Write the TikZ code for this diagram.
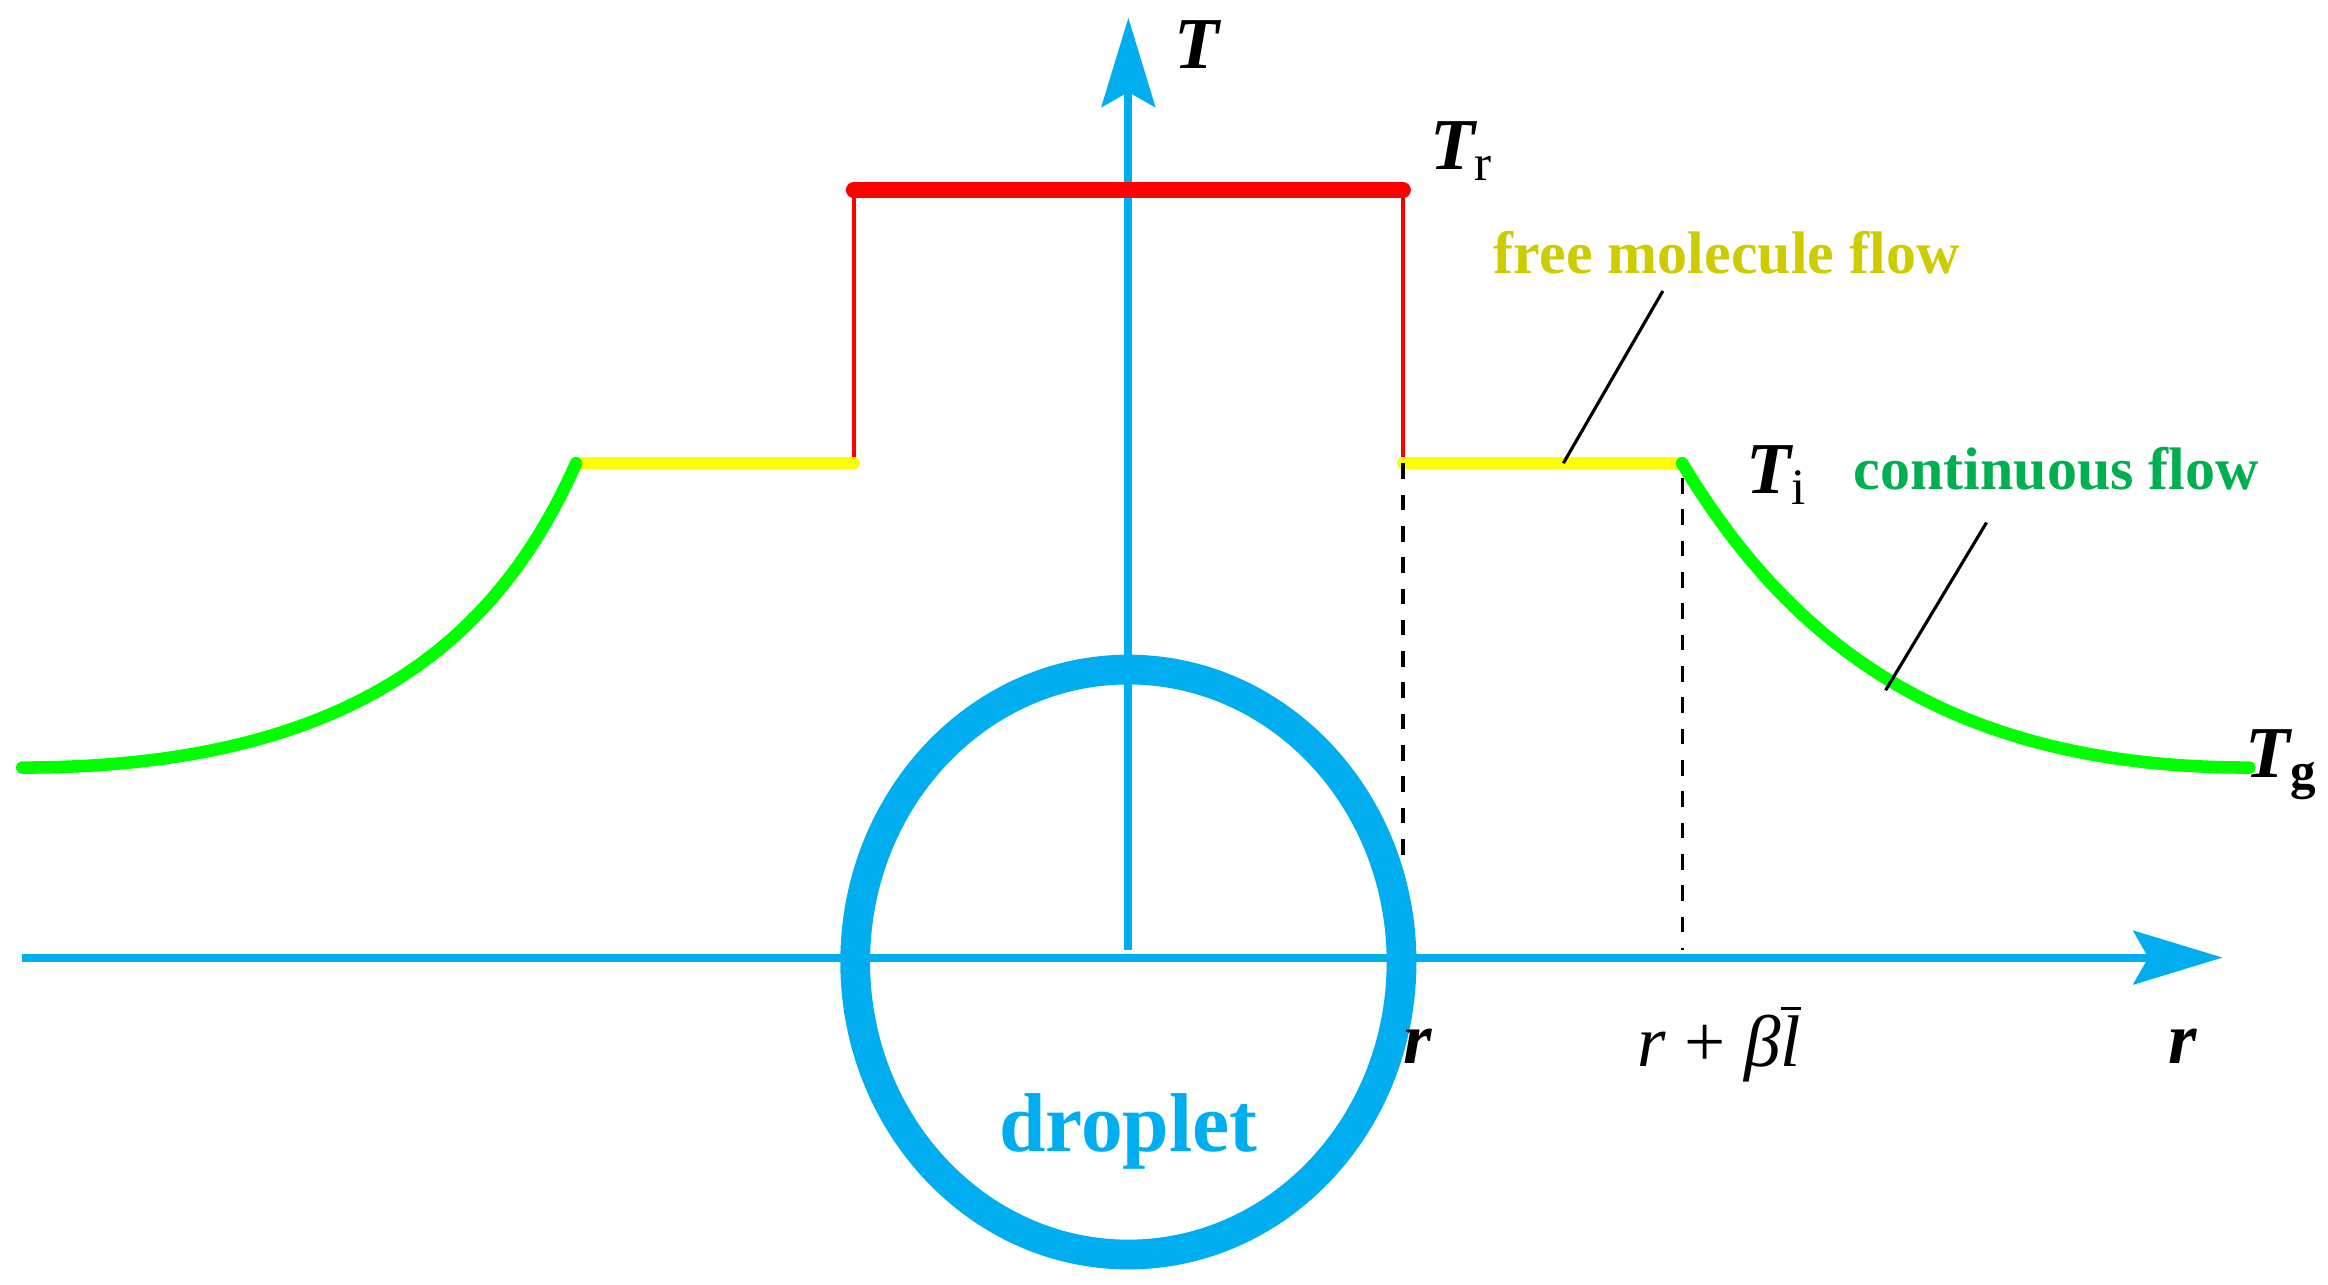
\documentclass[tikz,border=0pt]{standalone}
\usepackage{fontspec}
\setmainfont{Liberation Serif}
\usetikzlibrary{arrows.meta}
\definecolor{cblue}{RGB}{0,174,239}
\definecolor{cgreen}{RGB}{0,255,0}
\definecolor{lgreen}{RGB}{0,176,80}
\definecolor{cyel}{RGB}{255,255,0}
\definecolor{lyel}{RGB}{204,204,0}
\definecolor{cred}{RGB}{255,0,0}
\begin{document}
\begin{tikzpicture}[x=0.01cm,y=-0.01cm,
  axis/.style={cblue,line width=1.5pt,-{Stealth[length=0.6cm,width=0.36cm,inset=0.1cm]}},
  lab/.style={font=\fontsize{14}{16}\selectfont\bfseries\itshape},
  flow/.style={font=\fontsize{11.5}{14}\selectfont\bfseries},
  seg/.style={line width=2.4pt,line cap=round}]
\useasboundingbox (0,0) rectangle (1568,865);
\coordinate (ra0) at (15,645); \coordinate (ra1) at (1497,645);
\coordinate (ta0) at (760,640); \coordinate (ta1) at (760,12);
\coordinate (rL) at (575,128); \coordinate (rR) at (945,128);
\coordinate (yL0) at (388,312); \coordinate (yL1) at (575,312);
\coordinate (yR0) at (945,312); \coordinate (yR1) at (1133,312);
\coordinate (gL) at (15,517); \coordinate (gR) at (1515,517);
\coordinate (d1) at (945,580); \coordinate (d2) at (1133,640);
% droplet
\draw[cblue,line width=5.7pt] (760,648) ellipse [x radius=184,y radius=197];
\draw[axis] (ra0) -- (ra1);
\draw[axis] (ta0) -- (ta1);
% red
\draw[cred,line width=0.8pt] (rL) -- (yL1) (rR) -- (yR0);
\draw[cred,line width=3pt,line cap=round] (rL) -- (rR);
% yellow
\draw[cyel,seg] (yL0) -- (yL1);
\draw[cyel,seg] (yR0) -- (yR1);
% green
\draw[cgreen,seg] (gL) .. controls (250,517) and (340,420) .. (yL0);
\draw[cgreen,seg] (yR1) .. controls (1210,440) and (1320,517) .. (gR);
% dashed
\draw[dashed,line width=0.6pt] (yR0) -- (d1);
\draw[dashed,line width=0.6pt] (1133,322) -- (d2);
% labels
\node[lab] (T) at (806,30) {T};
\node[lab] (Tr) at (985,102) {T\textsubscript{\upshape\mdseries r}};
\node[lab] (Ti) at (1197,320) {T\textsubscript{\upshape\mdseries i}};
\node[lab,anchor=west,inner sep=0pt] (Tg) at (1512,515) {T\textsubscript{\upshape g}};
\node[flow,text=lyel] (fmf) at (1163,170) {free molecule flow};
\node[flow,text=lgreen] (cf) at (1385,316) {continuous flow};
\node[lab] (r1) at (955,705) {r};
\node[lab] (r2) at (1470,705) {r};
\node[font=\fontsize{14}{16}\selectfont] (rb) at (1158,703) {\textit{r} + \textit{β}$\overline{\mbox{\textit{l}}}$};
\node[font=\fontsize{16}{18}\selectfont\bfseries,text=cblue] (dr) at (760,762) {droplet};
\coordinate (a1) at (1120,196); \coordinate (a2) at (1053,312);
\coordinate (b1) at (1338,352); \coordinate (b2) at (1270,465);
\draw[line width=0.6pt] (a1) -- (a2);
\draw[line width=0.6pt] (b1) -- (b2);
\end{tikzpicture}
\end{document}
